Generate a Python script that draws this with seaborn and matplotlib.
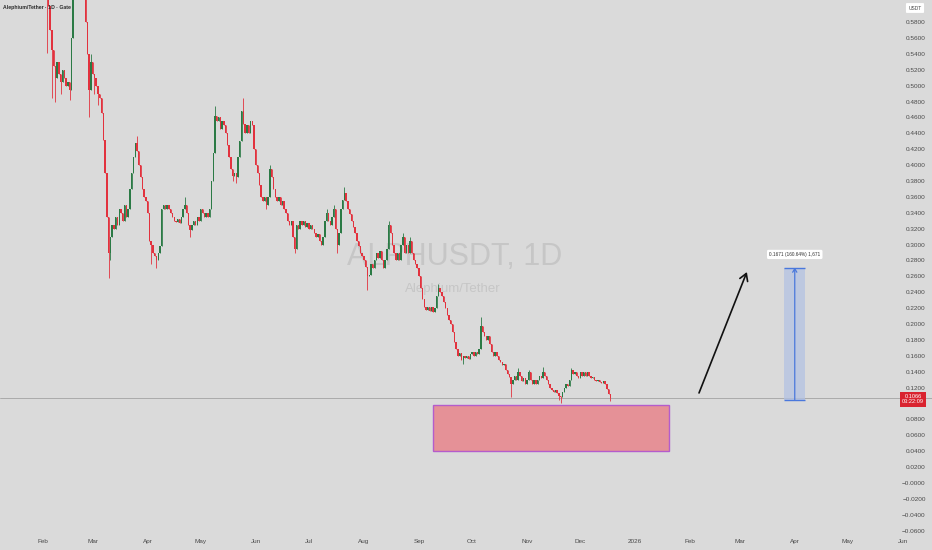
import numpy as np
import pandas as pd
import seaborn as sns
import matplotlib.pyplot as plt
import matplotlib.dates as mdates
from matplotlib.patches import Rectangle, FancyArrowPatch

# daily candles (ALPH/USDT, Gate, 1D)
first_day = "2025-02-03"
first_open = 0.655
closes = [
    0.625, 0.60, 0.57, 0.545, 0.525, 0.51, 0.53, 0.515, 0.505, 0.52,
    0.51, 0.50, 0.505, 0.495, 0.56, 0.615, 0.635, 0.65, 0.645, 0.665,
    0.655, 0.66, 0.58, 0.54, 0.495, 0.53, 0.515, 0.51, 0.50, 0.49,
    0.485, 0.466, 0.432, 0.39, 0.335, 0.29, 0.31, 0.325, 0.32, 0.335,
    0.325, 0.345, 0.34, 0.33, 0.35, 0.335, 0.345, 0.37, 0.39, 0.41,
    0.428, 0.418, 0.40, 0.385, 0.37, 0.36, 0.355, 0.34, 0.305, 0.30,
    0.29, 0.285, 0.28, 0.29, 0.298, 0.345, 0.35, 0.345, 0.35, 0.345,
    0.34, 0.335, 0.33, 0.328, 0.332, 0.327, 0.335, 0.345, 0.35, 0.34,
    0.325, 0.318, 0.325, 0.33, 0.325, 0.335, 0.33, 0.345, 0.34, 0.335,
    0.34, 0.335, 0.345, 0.38, 0.415, 0.462, 0.455, 0.46, 0.445, 0.455,
    0.45, 0.44, 0.425, 0.41, 0.395, 0.386, 0.39, 0.385, 0.41, 0.43,
    0.468, 0.452, 0.44, 0.45, 0.44, 0.455, 0.45, 0.42, 0.40, 0.39,
    0.375, 0.36, 0.355, 0.36, 0.35, 0.36, 0.395, 0.385, 0.37, 0.36,
    0.355, 0.36, 0.35, 0.355, 0.345, 0.34, 0.33, 0.325, 0.33, 0.31,
    0.295, 0.325, 0.32, 0.33, 0.325, 0.33, 0.322, 0.327, 0.32, 0.325,
    0.32, 0.315, 0.31, 0.313, 0.305, 0.30, 0.31, 0.33, 0.34, 0.33,
    0.325, 0.335, 0.345, 0.32, 0.30, 0.315, 0.345, 0.356, 0.365, 0.355,
    0.345, 0.338, 0.33, 0.322, 0.315, 0.305, 0.298, 0.29, 0.285, 0.28,
    0.272, 0.26, 0.262, 0.275, 0.27, 0.28, 0.29, 0.283, 0.292, 0.28,
    0.27, 0.28, 0.295, 0.325, 0.315, 0.30, 0.29, 0.28, 0.29, 0.28,
    0.30, 0.31, 0.29, 0.30, 0.29, 0.305, 0.29, 0.28, 0.275, 0.27,
    0.26, 0.245, 0.232, 0.222, 0.218, 0.222, 0.216, 0.222, 0.215, 0.22,
    0.235, 0.245, 0.24, 0.235, 0.228, 0.22, 0.212, 0.205, 0.20, 0.19,
    0.178, 0.168, 0.16, 0.163, 0.155, 0.16, 0.157, 0.16, 0.156, 0.162,
    0.165, 0.16, 0.165, 0.162, 0.168, 0.198, 0.19, 0.185, 0.18, 0.185,
    0.175, 0.165, 0.16, 0.165, 0.16, 0.155, 0.152, 0.148, 0.15, 0.142,
    0.137, 0.133, 0.125, 0.13, 0.135, 0.13, 0.14, 0.135, 0.128, 0.132,
    0.125, 0.13, 0.14, 0.13, 0.125, 0.13, 0.125, 0.13, 0.135, 0.132,
    0.14, 0.135, 0.13, 0.125, 0.12, 0.117, 0.115, 0.117, 0.113, 0.11,
    0.108, 0.115, 0.12, 0.125, 0.122, 0.13, 0.142, 0.137, 0.14, 0.135,
    0.132, 0.14, 0.135, 0.14, 0.135, 0.14, 0.135, 0.132, 0.134, 0.13,
    0.128, 0.13, 0.127, 0.126, 0.128, 0.125, 0.118, 0.112, 0.1066,
]
# visible wick extremes (candle index -> price)
wick_highs = {0: 0.67, 15: 0.625, 21: 0.67, 25: 0.54, 51: 0.436, 78: 0.36,
              95: 0.474, 111: 0.484, 126: 0.40, 158: 0.345, 162: 0.35,
              168: 0.372, 193: 0.33, 201: 0.315, 205: 0.31, 221: 0.25,
              245: 0.209, 266: 0.145, 272: 0.142, 280: 0.146, 296: 0.145}
wick_lows = {0: 0.541, 3: 0.485, 5: 0.48, 8: 0.49, 13: 0.482, 24: 0.46,
             27: 0.49, 29: 0.475, 35: 0.258, 36: 0.28, 59: 0.275, 62: 0.27,
             81: 0.31, 105: 0.38, 107: 0.378, 124: 0.345, 140: 0.29,
             164: 0.29, 181: 0.243, 235: 0.15, 262: 0.108, 289: 0.105,
             290: 0.101, 318: 0.103}

last_price = 0.1066
countdown = "03:22:09"
month_labels = ["Feb", "Mar", "Apr", "May", "Jun", "Jul", "Aug", "Sep", "Oct",
                "Nov", "Dec", "2026", "Feb", "Mar", "Apr", "May", "Jun"]
price_ticks = [round(-0.06 + 0.02 * k, 2) for k in range(33)]

demand_zone = ("2025-09-09", "2026-01-20", 0.0403, 0.0982)
target_box = ("2026-03-26", "2026-04-07", 0.1040, 0.2711)
target_text = "0.1671 (160.64%) 1,671"
arrow_from = ("2026-02-06", 0.1133)
arrow_to = ("2026-03-05", 0.2655)

# build OHLC table
dates = pd.date_range(first_day, periods=len(closes), freq="D")
df = pd.DataFrame({"date": dates, "close": closes})
df["open"] = [first_open] + closes[:-1]
df["high"] = df[["open", "close"]].max(axis=1)
df["low"] = df[["open", "close"]].min(axis=1)
for k, v in wick_highs.items():
    df.loc[k, "high"] = v
for k, v in wick_lows.items():
    df.loc[k, "low"] = v
df["up"] = df["close"] >= df["open"]
df["x"] = mdates.date2num(df["date"])

bg = "#dadada"
up_col, down_col = "#2b7a45", "#e2323e"
sns.set_theme(style="white", rc={"axes.facecolor": bg, "figure.facecolor": bg})
plt.rcParams["font.family"] = ["Liberation Sans", "DejaVu Sans"]

fig = plt.figure(figsize=(9.32, 5.5), dpi=100)
ax = fig.add_axes([0, 13 / 550, 1, 537 / 550])
for s in ax.spines.values():
    s.set_visible(False)

feb1 = mdates.date2num(pd.Timestamp("2025-02-01"))
ppd = 1.773
ax.set_xlim(feb1 - 43 / ppd, feb1 + (932 - 43) / ppd)
ax.set_ylim(-0.0679, 0.6077)

colors = np.where(df["up"], up_col, down_col)
ax.vlines(df["x"], df["low"], df["high"], colors=colors, linewidth=0.6, zorder=3)
body = (df["close"] - df["open"]).abs().clip(lower=0.0008)
ax.bar(df["x"], body, bottom=df[["open", "close"]].min(axis=1), width=0.78,
       color=colors, linewidth=0, zorder=4)

# last price line
ax.axhline(last_price, color="#a3a3a3", lw=0.6, zorder=2)

# demand zone
z0, z1 = mdates.date2num(pd.Timestamp(demand_zone[0])), mdates.date2num(pd.Timestamp(demand_zone[1]))
ax.add_patch(Rectangle((z0, demand_zone[2]), z1 - z0, demand_zone[3] - demand_zone[2],
                       facecolor="#e59197", edgecolor="#b45ccc", lw=1.0, zorder=2))

# projected move box
b0, b1 = mdates.date2num(pd.Timestamp(target_box[0])), mdates.date2num(pd.Timestamp(target_box[1]))
lo, hi = target_box[2], target_box[3]
ax.add_patch(Rectangle((b0, lo), b1 - b0, hi - lo, facecolor="#b4c3e3", alpha=0.75,
                       edgecolor="none", zorder=2))
ax.hlines([lo, hi], b0, b1, colors="#4a78dc", lw=1.0, zorder=3)
bm = (b0 + b1) / 2
ax.add_patch(FancyArrowPatch((bm, lo), (bm, hi), arrowstyle="->,head_length=2.5,head_width=1.5",
                             color="#4a78dc", lw=0.9, zorder=3, shrinkA=0, shrinkB=0))
ax.text(bm, hi + 0.0165, target_text, ha="center", va="center", fontsize=3.4, color="#333333",
        bbox=dict(boxstyle="round,pad=0.45,rounding_size=0.3", fc="white", ec="none"), zorder=5)

# black arrow
a0 = (mdates.date2num(pd.Timestamp(arrow_from[0])), arrow_from[1])
a1 = (mdates.date2num(pd.Timestamp(arrow_to[0])), arrow_to[1])
ax.add_patch(FancyArrowPatch(a0, a1, arrowstyle="->,head_length=5,head_width=3",
                             color="#111111", lw=1.2, zorder=5, shrinkA=0, shrinkB=0))

# watermark
ax.text(0.488, 0.522, "ALPHUSDT, 1D", transform=ax.transAxes, ha="center", va="center",
        fontsize=22, color="#c6c6c6", zorder=1)
ax.text(0.486, 0.462, "Alephium/Tether", transform=ax.transAxes, ha="center", va="center",
        fontsize=9.5, color="#c6c6c6", zorder=1)

# axes ticks
month_ticks = pd.date_range("2025-02-01", periods=len(month_labels), freq="MS")
ax.set_xticks(mdates.date2num(month_ticks))
ax.set_xticklabels(month_labels)
ax.tick_params(axis="x", length=0, pad=1.2, labelsize=4.6, labelcolor="#4a4a4a")


def price_label(v):
    # the 0.1000 level sits under the live price tag
    if abs(v - 0.10) < 1e-9:
        return ""
    if v <= 0:
        return "\u2212" + f"{abs(v):.4f}"
    return f"{v:.4f}"


ax.yaxis.tick_right()
ax.set_yticks(price_ticks)
ax.set_yticklabels([price_label(v) for v in price_ticks])
ax.tick_params(axis="y", length=0, pad=-4.5, labelsize=4.6, labelcolor="#4a4a4a")
for lbl in ax.get_yticklabels():
    lbl.set_horizontalalignment("right")
ax.grid(False)

# price tag on the scale
ax.text(0.9795, last_price - 0.0012, f"{last_price:.4f}\n{countdown}", transform=ax.get_yaxis_transform(),
        ha="center", va="center", fontsize=4.1, color="white", linespacing=1.05, zorder=6,
        bbox=dict(boxstyle="square,pad=0.4", fc="#d9232f", ec="none"))

fig.text(3 / 932, 1 - 8 / 550, "Alephium/Tether \u00b7 1D \u00b7 Gate", ha="left", va="center",
         fontsize=3.7, color="#2a2a2a", fontweight="bold")
fig.text(915 / 932, 1 - 8 / 550, "USDT", ha="center", va="center", fontsize=3.5, color="#444444",
         bbox=dict(boxstyle="round,pad=0.5,rounding_size=0.2", fc="white", ec="none"))

fig.savefig("out.png", dpi=100, facecolor=bg)
